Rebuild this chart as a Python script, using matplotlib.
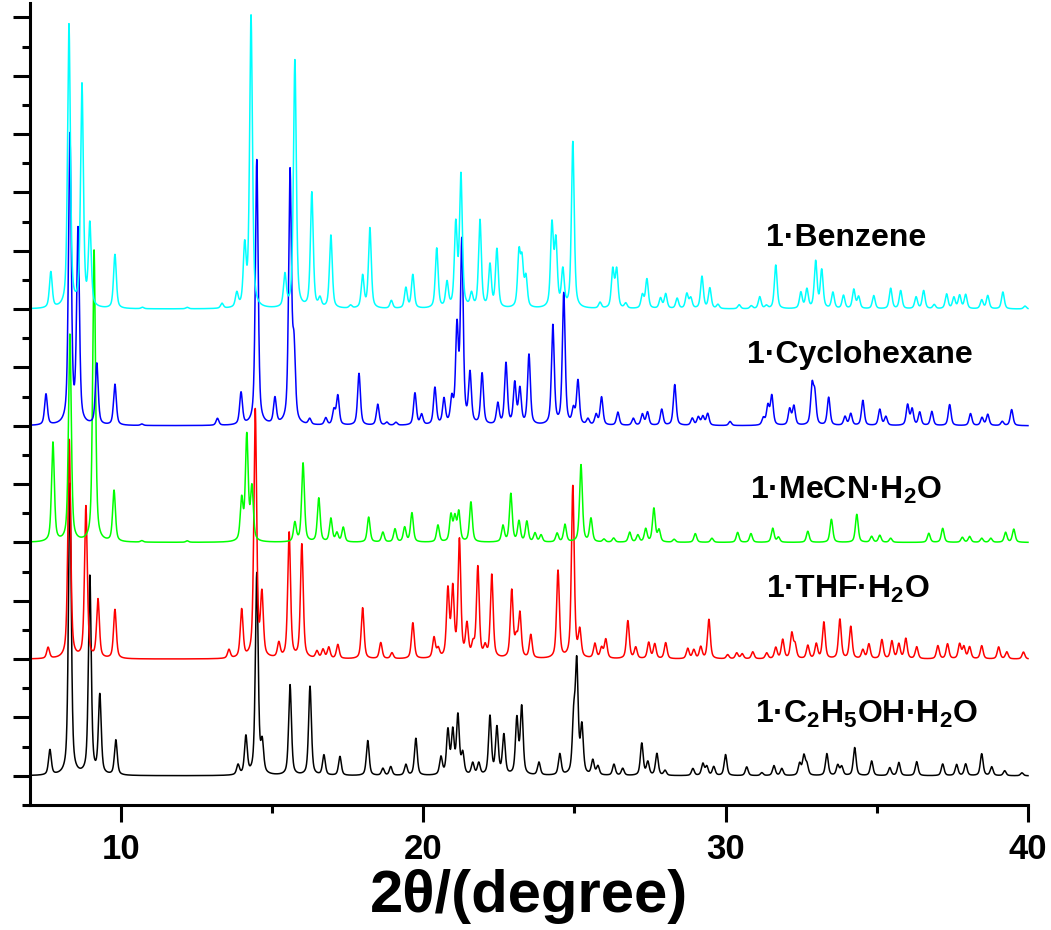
import numpy as np
import matplotlib
matplotlib.use("Agg")
from matplotlib import pyplot as plt

plt.rcParams['font.family'] = ['Liberation Sans', 'DejaVu Sans']
plt.rcParams['mathtext.fontset'] = 'custom'
plt.rcParams['mathtext.bf'] = 'Liberation Sans:bold'
plt.rcParams['mathtext.rm'] = 'Liberation Sans:bold'

# peak lists: 2theta position, height above the pattern baseline
etoh_pos = [7.66, 8.32, 8.98, 9.31, 9.84, 13.88, 14.14, 14.5, 14.68, 15.6, 16.26, 16.72, 17.25,
            18.17, 18.67, 18.93, 19.43, 19.76, 20.59, 20.82, 20.98, 21.15, 21.31, 21.64, 21.84,
            22.21, 22.44, 22.67, 23.1, 23.26, 23.83, 24.52, 24.98, 25.08, 25.25, 25.61, 25.78,
            26.31, 26.6, 27.23, 27.43, 27.73, 28.0, 28.92, 29.25, 29.38, 29.61, 30.0, 30.7, 31.2,
            31.6, 31.86, 32.45, 32.59, 32.69, 33.35, 33.71, 33.84, 34.27, 34.83, 35.43, 35.73,
            36.32, 37.18, 37.64, 37.94, 38.47, 38.8, 39.23, 39.8]
etoh_h = [0.86, 10.0, 6.8, 2.7, 1.2, 0.34, 1.3, 6.9, 1.0, 3.1, 3.05, 0.69, 0.65,
          1.2, 0.24, 0.3, 0.37, 1.27, 0.6, 1.5, 1.45, 2.0, 0.7, 0.4, 0.4,
          2.0, 1.6, 1.35, 1.9, 2.3, 0.44, 0.72, 1.8, 3.7, 1.6, 0.5, 0.3,
          0.38, 0.24, 1.1, 0.45, 0.75, 0.17, 0.24, 0.4, 0.3, 0.3, 0.72, 0.3, 0.1,
          0.34, 0.24, 0.4, 0.65, 0.35, 0.75, 0.35, 0.3, 0.96, 0.5, 0.27, 0.45,
          0.48, 0.4, 0.38, 0.4, 0.75, 0.3, 0.17, 0.1]

thf_pos = [7.6, 8.3, 8.85, 9.25, 9.81, 13.58, 14.0, 14.45, 14.67, 15.23, 15.57, 15.99, 16.49,
           16.69, 16.88, 17.18, 18.0, 18.6, 18.97, 19.66, 20.36, 20.5, 20.82, 20.98, 21.2, 21.45,
           21.65, 21.81, 22.05, 22.27, 22.93, 23.08, 23.2, 23.56, 24.46, 24.95, 25.18, 25.68,
           25.9, 26.04, 26.77, 27.03, 27.46, 27.66, 28.02, 28.75, 28.95, 29.18, 29.45, 30.07,
           30.37, 30.55, 30.9, 31.36, 31.66, 31.89, 32.19, 32.3, 32.72, 33.0, 33.25, 33.78,
           34.14, 34.54, 34.74, 35.17, 35.5, 35.73, 35.96, 36.32, 37.02, 37.34, 37.74, 37.88,
           38.07, 38.47, 39.03, 39.3, 39.85]
thf_h = [0.38, 7.5, 5.2, 2.0, 1.68, 0.3, 1.65, 8.5, 2.1, 0.5, 4.3, 3.9, 0.24,
         0.3, 0.38, 0.48, 1.75, 0.55, 0.2, 1.23, 0.7, 0.3, 2.3, 2.3, 4.0, 1.1,
         0.4, 3.1, 0.35, 2.85, 2.3, 0.6, 1.5, 0.8, 3.0, 5.9, 0.9, 0.5,
         0.35, 0.65, 1.3, 0.38, 0.55, 0.5, 0.55, 0.35, 0.3, 0.4, 1.35, 0.14,
         0.2, 0.17, 0.24, 0.2, 0.38, 0.65, 0.85, 0.45, 0.45, 0.5, 1.25, 1.35,
         1.1, 0.3, 0.5, 0.65, 0.6, 0.5, 0.69, 0.41, 0.45, 0.51, 0.5, 0.4,
         0.4, 0.45, 0.41, 0.24, 0.24]

mecn_pos = [7.76, 8.32, 9.12, 9.78, 10.7, 12.2, 14.0, 14.17, 14.34, 15.76, 16.03, 16.55, 16.95,
            17.15, 17.36, 18.2, 18.67, 19.07, 19.39, 19.63, 20.49, 20.92, 21.05, 21.18, 21.58,
            22.64, 22.9, 23.17, 23.43, 23.7, 23.9, 24.43, 24.69, 25.22, 25.55, 25.98, 26.3,
            26.83, 27.1, 27.36, 27.63, 27.8, 28.3, 29.0, 29.55, 30.4, 30.84, 31.56, 31.75, 32.72,
            33.5, 34.34, 34.83, 35.1, 35.46, 36.72, 37.18, 37.83, 38.07, 38.47, 38.77, 39.26, 39.53]
mecn_h = [3.4, 7.1, 10.0, 1.75, 0.05, 0.05, 1.4, 3.6, 1.8, 0.65, 2.7, 1.5, 0.8,
          0.3, 0.5, 0.86, 0.34, 0.45, 0.5, 1.0, 0.58, 0.9, 0.8, 1.0, 1.37,
          0.55, 1.65, 0.7, 0.7, 0.3, 0.24, 0.3, 0.6, 2.65, 0.8, 0.1, 0.14,
          0.34, 0.24, 0.45, 1.15, 0.4, 0.1, 0.3, 0.14, 0.34, 0.3, 0.48, 0.17, 0.38,
          0.79, 0.96, 0.2, 0.24, 0.14, 0.31, 0.48, 0.17, 0.2, 0.14, 0.14, 0.34, 0.45]

chex_pos = [7.53, 8.32, 8.59, 9.21, 9.81, 10.7, 13.2, 13.98, 14.5, 15.1, 15.6, 15.73, 16.25,
            16.78, 17.05, 17.18, 17.88, 18.5, 18.8, 19.1, 19.73, 19.95, 20.39, 20.69, 20.95,
            21.12, 21.28, 21.55, 21.95, 22.47, 22.74, 23.03, 23.2, 23.5, 24.29, 24.65, 24.97,
            25.12, 25.45, 25.72, 25.9, 26.44, 26.95, 27.25, 27.42, 27.89, 28.32, 28.9, 29.1,
            29.25, 29.41, 30.15, 31.25, 31.4, 31.53, 32.12, 32.26, 32.86, 32.95, 33.41, 33.95,
            34.14, 34.54, 35.1, 35.3, 36.02, 36.17, 36.42, 36.82, 37.41, 38.1, 38.48, 38.67,
            39.15, 39.46]
chex_h = [1.06, 9.9, 6.6, 2.1, 1.4, 0.05, 0.24, 1.1, 9.1, 0.89, 8.6, 2.4, 0.2,
          0.24, 0.5, 1.0, 1.78, 0.72, 0.1, 0.1, 1.1, 0.35, 1.27, 0.86, 0.8,
          3.2, 6.2, 1.7, 1.75, 0.72, 2.1, 1.4, 1.2, 2.4, 3.4, 4.5, 0.5,
          1.5, 0.2, 0.35, 0.96, 0.45, 0.24, 0.38, 0.45, 0.55, 1.4, 0.24, 0.28,
          0.3, 0.4, 0.14, 0.24, 0.65, 1.0, 0.55, 0.65, 1.3, 1.0, 0.96, 0.3,
          0.4, 0.86, 0.55, 0.3, 0.7, 0.55, 0.45, 0.48, 0.72, 0.41, 0.27, 0.38,
          0.14, 0.55]

benz_pos = [7.69, 8.29, 8.72, 8.98, 9.81, 10.72, 12.2, 13.35, 13.84, 14.1, 14.31, 15.43, 15.76,
            16.32, 16.59, 16.95, 17.6, 18.0, 18.24, 18.95, 19.43, 19.66, 20.45, 20.79, 21.08,
            21.25, 21.6, 21.88, 22.21, 22.44, 23.17, 23.27, 23.4, 24.26, 24.39, 24.62, 24.95,
            25.85, 26.27, 26.4, 26.7, 27.25, 27.4, 27.85, 28.02, 28.4, 28.72, 28.85, 29.22,
            29.48, 29.75, 30.45, 30.85, 31.13, 31.35, 31.66, 32.49, 32.69, 32.98, 33.18, 33.55,
            33.9, 34.24, 34.4, 34.9, 35.46, 35.79, 36.3, 36.55, 36.9, 37.31, 37.55, 37.74,
            37.94, 38.47, 38.67, 39.17, 39.9]
benz_h = [1.23, 9.7, 7.6, 2.8, 1.85, 0.05, 0.05, 0.17, 0.48, 2.0, 10.0, 1.1, 8.5,
          3.95, 0.3, 2.5, 0.1, 1.1, 2.75, 0.27, 0.7, 1.15, 2.05, 0.85, 2.8,
          4.5, 0.45, 3.0, 1.45, 2.0, 1.8, 1.5, 1.0, 2.8, 2.2, 1.25, 5.7,
          0.2, 1.3, 1.3, 0.17, 0.45, 1.0, 0.35, 0.5, 0.35, 0.5, 0.35, 1.1,
          0.7, 0.14, 0.14, 0.1, 0.41, 0.1, 1.5, 0.55, 0.65, 1.6, 1.3, 0.55,
          0.45, 0.65, 0.4, 0.45, 0.7, 0.62, 0.4, 0.62, 0.14, 0.5, 0.38, 0.45,
          0.48, 0.3, 0.45, 0.58, 0.1]

offsets = [1, 5, 9, 13, 17]
colors = ['black', '#ff0000', '#00ff00', '#0000ff', '#00ffff']
labels = [r'1·C$_\mathbf{2}$H$_\mathbf{5}$OH·H$_\mathbf{2}$O', r'1·THF·H$_\mathbf{2}$O',
          r'1·MeCN·H$_\mathbf{2}$O', '1·Cyclohexane', '1·Benzene']
label_xy = [(34.67, 2.81), (34.04, 7.1), (34.0, 10.49), (34.44, 15.15), (33.98, 19.16)]


def pattern(tt, pos, h, fwhm=0.11, eta=0.55):
    # pseudo-voigt peak profile
    y = np.zeros_like(tt)
    g = fwhm / 2.0
    for p, a in zip(pos, h):
        d = tt - p
        lor = g**2 / (d**2 + g**2)
        gau = np.exp(-4 * np.log(2) * (d / fwhm)**2)
        y += a * (eta * lor + (1 - eta) * gau)
    return y


tt = np.linspace(7, 40, 6601)
series = [(etoh_pos, etoh_h), (thf_pos, thf_h), (mecn_pos, mecn_h),
          (chex_pos, chex_h), (benz_pos, benz_h)]

fig = plt.figure(figsize=(10.51, 9.30), dpi=100)
ax = fig.add_axes([0.0285, 0.1344, 0.9496, 0.8626])

for (pos, h), off, c in zip(series, offsets, colors):
    ax.plot(tt, off + pattern(tt, pos, h), color=c, lw=1.1, clip_on=False)

for lab, (lx, ly) in zip(labels, label_xy):
    ax.text(lx, ly, lab, ha='center', va='baseline', fontsize=23, fontweight='bold')

ax.set_xlim(7, 40)
ax.set_ylim(0, 27.5)
ax.set_xticks([10, 20, 30, 40])
ax.set_xticks([15, 25, 35], minor=True)
ax.set_yticks(np.arange(1, 28, 2))
ax.set_yticks(np.arange(0, 28, 2), minor=True)
ax.set_yticklabels([])
for s in ['top', 'right']:
    ax.spines[s].set_visible(False)
for s in ['left', 'bottom']:
    ax.spines[s].set_linewidth(2.2)
ax.tick_params(axis='both', which='major', direction='out', length=12, width=2.2)
ax.tick_params(axis='both', which='minor', direction='out', length=6, width=2.2)
ax.tick_params(axis='x', which='major', labelsize=25, pad=8)
for t in ax.get_xticklabels():
    t.set_fontweight('bold')
ax.set_xlabel('2θ/(degree)', fontsize=43, fontweight='bold', labelpad=2)

fig.savefig('out.png', dpi=100)
